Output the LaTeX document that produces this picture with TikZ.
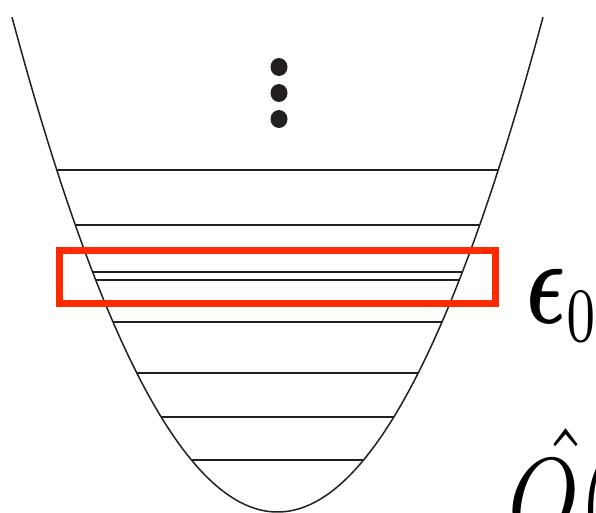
\documentclass[tikz,border=0pt]{standalone}
\usepackage{amsmath}
\usetikzlibrary{positioning}
\definecolor{cred}{HTML}{FF2A00}
\definecolor{cink}{HTML}{231F20}
\tikzset{
  every picture/.style={line width=1.4pt},
  well/.style={draw=cink, line width=1.5pt},
  level/.style={draw=cink, line width=2pt},
  hilite/.style={draw=cred, line width=7pt},
  bigmath/.style={inner sep=0pt, text=black},
}
\begin{document}
\begin{tikzpicture}[x=1pt, y=-1pt,
  declare function={half(\h)=sqrt(512-\h)/0.083785;}]
  \useasboundingbox (0,0) rectangle (596,513);
  \clip (0,0) rectangle (596,513);
  % the potential well
  \draw[well, domain=12:543, samples=120] plot (\x, {512-((\x-277.5)*0.083785)^2});
  % energy levels
  \foreach \h in {170,225,272,280,322,373,417,460} {
    \draw[level] ({277.5-half(\h)},\h) -- ({277.5+half(\h)},\h);
  }
  % more levels above
  \foreach \h in {67,93,119}
    \fill[cink] (279,\h) ellipse (8.5 and 9);
  % the marked pair
  \draw[hilite] (59.5,250) rectangle (495,303);
  \node[bigmath, xscale=8.2, yscale=12.2, anchor=base west] (eps) at (521,323)
    {$\boldsymbol{\epsilon}_{\scalebox{0.9}{$\scriptstyle 0$}}$};
  \node[bigmath, xscale=9, yscale=11.8, anchor=base west] (qhat) at (502,540)
    {$\skew{9}{\hat}{Q}($};
\end{tikzpicture}
\end{document}
